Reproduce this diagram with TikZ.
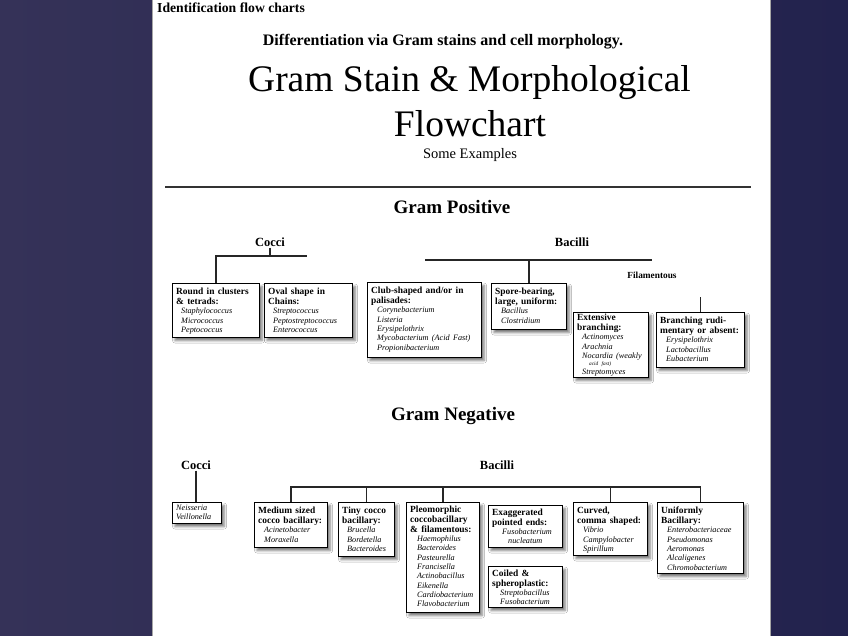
\documentclass[tikz,border=0pt]{standalone}
\usepackage{fontspec}
\setmainfont{Liberation Serif}
\usetikzlibrary{shadows.blur}
\definecolor{bgleft}{RGB}{53,50,88}
\definecolor{bgright}{RGB}{34,34,77}
\newcommand\hdf{\fontsize{9.4}{9.8}\selectfont\bfseries}
\newcommand\itf{\fontsize{8.2}{9.3}\selectfont\itshape}
\newcommand\smf{\fontsize{5.3}{6.6}\selectfont\itshape}
\tikzset{
 gbx/.style={draw=black, line width=1.1pt, fill=white, anchor=north west, inner sep=0pt,
   blur shadow={shadow xshift=2.5pt, shadow yshift=-3pt, shadow blur radius=2.5pt, shadow opacity=55}},
 gtxt/.style={anchor=north west, inner sep=0pt, align=left, text width=#1},
 conn/.style={draw=black!85, line width=1.2pt},
 lbl/.style={font=\bfseries\fontsize{12.5}{14}\selectfont, inner sep=1pt},
}
\newcommand\gbox[7]{%
 \node[gbx, minimum width=#4pt, minimum height=#5pt] (#1) at (#2,#3) {};
 \node[gtxt={#4pt}, xshift=4pt, yshift=#6pt] (#1t) at (#1.north west) {#7};
}
\begin{document}
\begin{tikzpicture}[x=1pt,y=-1pt]
\useasboundingbox (0,0) rectangle (848,636);
\shade[left color=bgleft, right color=bgright] (0,0) rectangle (848,636);
\fill[white] (152,0) rectangle (771,636);
\draw[black!35, line width=0.8pt] (152.4,0) -- (152.4,636);
\draw[black!35, line width=0.8pt] (770.6,0) -- (770.6,636);

% titles
\node[font=\bfseries\fontsize{13.7}{15}\selectfont, anchor=base west, inner sep=0pt] (hdr) at (157,13) {Identification flow charts};
\node[font=\bfseries\fontsize{16}{18}\selectfont, anchor=base, inner sep=0pt] (sub) at (443,45.5) {Differentiation via Gram stains and cell morphology.};
\node[font=\fontsize{37.5}{42}\selectfont, anchor=base, inner sep=0pt] (t1) at (469.5,91.5) {Gram Stain \& Morphological};
\node[font=\fontsize{37.5}{42}\selectfont, anchor=base, inner sep=0pt] (t2) at (470,137) {Flowchart};
\node[font=\fontsize{14.5}{16}\selectfont, anchor=base, inner sep=0pt] (t3) at (470,158.5) {Some Examples};
\draw[black!80, line width=1.3pt] (165,187) -- (751,187);

% Gram positive
\node[font=\bfseries\fontsize{19}{21}\selectfont, anchor=base, inner sep=0pt] (gp) at (452,214) {Gram Positive};
\node[lbl] (cocciP) at (270,242) {Cocci};
\node[lbl] (bacP) at (572,242) {Bacilli};
\node[font=\bfseries\fontsize{9.3}{10}\selectfont, inner sep=1pt] (fil) at (652,275) {Filamentous};

\gbox{A}{172}{283}{87}{54}{-5}{{\hdf Round in clusters\\ \& tetrads:\par}{\itf\leftskip=5pt Staphylococcus\\Micrococcus\\Peptococcus\par}}
\gbox{B}{264}{283}{88}{54}{-5}{{\hdf Oval shape in\\ Chains:\par}{\itf\leftskip=5pt Streptococcus\\Peptostreptococcus\\Enterococcus\par}}
\gbox{C}{367}{282}{114}{75}{-5}{{\hdf Club-shaped and/or in\\ palisades:\par}{\itf\leftskip=6pt Corynebacterium\\Listeria\\Erysipelothrix\\Mycobacterium (Acid Fast)\\Propionibacterium\par}}
\gbox{D}{491}{283}{75}{46}{-5}{{\hdf Spore-bearing,\\ large, uniform:\par}{\itf\leftskip=6pt Bacillus\\Clostridium\par}}
\gbox{E}{573}{312}{75}{65}{-2}{{\hdf Extensive\\ branching:\par}{\itf\leftskip=5pt Actinomyces\\Arachnia\\Nocardia (weakly\par}{\smf\leftskip=12pt acid fast)\par}{\itf\leftskip=5pt Streptomyces\par}}
\gbox{F}{656}{312}{88}{55}{-5}{{\hdf Branching rudi-\\ mentary or absent:\par}{\itf\leftskip=6pt Erysipelothrix\\Lactobacillus\\Eubacterium\par}}

\draw[conn] (cocciP.south) -- (cocciP.south |- 0,256);
\draw[conn] (A.north) -- (A.north |- 0,256) -- (307,256);
\draw[conn] (425,260) -- (fil.north |- 0,260);
\draw[conn] (D.north) -- (D.north |- 0,260);
\draw[conn] (F.north) -- (F.north |- 0,297);

% Gram negative
\node[font=\bfseries\fontsize{19}{21}\selectfont, anchor=base, inner sep=0pt] (gn) at (453,420) {Gram Negative};
\node[lbl] (cocciN) at (196,465) {Cocci};
\node[lbl] (bacN) at (497,465) {Bacilli};

\gbox{G}{172}{502}{49}{21}{-2.5}{{\itf Neisseria\\Veillonella\par}}
\gbox{H}{254}{502}{73}{45}{-5}{{\hdf Medium sized\\ cocco bacillary:\par}{\itf\leftskip=6pt Acinetobacter\\Moraxella\par}}
\gbox{I}{338}{502}{56}{54}{-5}{{\hdf Tiny cocco\\ bacillary:\par}{\itf\leftskip=5pt Brucella\\Bordetella\\Bacteroides\par}}
\gbox{J}{406}{502}{73}{110}{-4}{{\hdf Pleomorphic\\ coccobacillary\\ \& filamentous:\par}{\itf\leftskip=7pt Haemophilus\\Bacteroides\\Pasteurella\\Francisella\\Actinobacillus\\Eikenella\\Cardiobacterium\\Flavobacterium\par}}
\gbox{K}{488}{505}{74}{42}{-3.5}{{\hdf Exaggerated\\ pointed ends:\par}{\itf\leftskip=10pt Fusobacterium\par}{\itf\leftskip=16pt nucleatum\par}}
\gbox{L}{488}{566}{74}{41}{-3.5}{{\hdf Coiled \&\\ spheroplastic:\par}{\itf\leftskip=8pt Streptobacillus\\Fusobacterium\par}}
\gbox{M}{573}{502}{74}{53}{-5}{{\hdf Curved,\\ comma shaped:\par}{\itf\leftskip=6pt Vibrio\\Campylobacter\\Spirillum\par}}
\gbox{N}{657}{502}{86}{71}{-5}{{\hdf Uniformly\\ Bacillary:\par}{\itf\leftskip=6pt Enterobacteriaceae\\Pseudomonas\\Aeromonas\\Alcaligenes\\Chromobacterium\par}}

\draw[conn] (cocciN.south) -- (cocciN.south |- G.north);
\draw[conn] (H.north) -- (H.north |- 0,487) -- (N.north |- 0,487) -- (N.north);
\draw[conn] (I.north) -- (I.north |- 0,487);
\draw[conn] (J.north) -- (J.north |- 0,487);
\draw[conn] (M.north) -- (M.north |- 0,487);
\end{tikzpicture}
\end{document}
